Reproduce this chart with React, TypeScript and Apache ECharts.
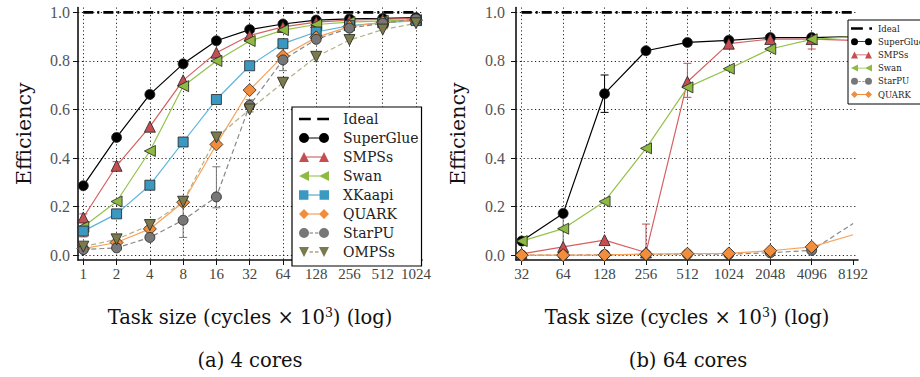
import React, { useEffect, useRef } from "react";
import * as echarts from "echarts";

// ---------- data: panel (a) 4 cores ----------
const sizesA = [1, 2, 4, 8, 16, 32, 64, 128, 256, 512, 1024];
const idealA = [1, 1, 1, 1, 1, 1, 1, 1, 1, 1, 1];
const superGlueA = [0.286, 0.485, 0.662, 0.788, 0.883, 0.929, 0.952, 0.968, 0.973, 0.975, 0.978];
const smpssA = [0.155, 0.368, 0.529, 0.72, 0.834, 0.905, 0.94, 0.96, 0.968, 0.972, 0.974];
const swanA = [0.117, 0.221, 0.429, 0.696, 0.8, 0.882, 0.927, 0.95, 0.96, 0.965, 0.968];
const xkaapiA = [0.099, 0.17, 0.288, 0.466, 0.641, 0.78, 0.871, 0.919, 0.945, 0.957, 0.966];
const quarkA = [0.027, 0.052, 0.108, 0.218, 0.456, 0.68, 0.82, 0.897, 0.941, 0.959, 0.968];
const starpuA = [0.023, 0.03, 0.073, 0.144, 0.24, 0.617, 0.804, 0.889, 0.935, 0.955, 0.973];
const ompssA = [0.035, 0.065, 0.124, 0.22, 0.485, 0.6, 0.71, 0.817, 0.886, 0.929, 0.955];
// error bars [size, low, high]
const errStarpuA = [[8, 0.073, 0.227], [16, 0.195, 0.364], [32, 0.59, 0.64], [64, 0.76, 0.83]];
const errSmpssA = [[1, 0.075, 0.17], [2, 0.35, 0.385]];

// ---------- data: panel (b) 64 cores ----------
const sizesB = [32, 64, 128, 256, 512, 1024, 2048, 4096, 8192];
const tickSizesB = [32, 64, 128, 256, 512, 1024, 2048, 4096, 8192];
const gridSizesB = [32, 64, 128, 256, 512, 1024, 2048, 4096];
const idealB = [1, 1, 1, 1, 1, 1, 1, 1, 1];
const superGlueB = [0.058, 0.172, 0.665, 0.842, 0.876, 0.885, 0.896, 0.896, 0.9];
const smpssB = [0.005, 0.034, 0.062, 0.011, 0.714, 0.871, 0.89, 0.89, 0.885];
const swanB = [0.058, 0.109, 0.221, 0.44, 0.691, 0.768, 0.849, 0.889, 0.9];
const starpuB = [0.0, 0.0, 0.002, 0.003, 0.004, 0.004, 0.01, 0.02, 0.13];
const quarkB = [0.0, 0.0, 0.001, 0.004, 0.006, 0.007, 0.018, 0.034, 0.084];
const errSuperGlueB = [[128, 0.588, 0.742]];
const errSmpssB = [[256, 0.0, 0.128], [512, 0.65, 0.79], [4096, 0.849, 0.886]];
const errStarpuB = [[64, 0.0, 0.17]];

const yTicks = [0, 0.2, 0.4, 0.6, 0.8, 1.0];

const FONT = "DejaVu Serif";
const TICKFONT = "Liberation Serif";

// legend icons (markers at both ends, line between)
const circ = (cx: number) => `M${cx - 5},5 A5,5 0 1,1 ${cx + 5},5 A5,5 0 1,1 ${cx - 5},5 Z`;
const triUp = (cx: number) => `M${cx - 5},10 L${cx},0 L${cx + 5},10 Z`;
const triLeft = (cx: number) => `M${cx - 5},5 L${cx + 5},0 L${cx + 5},10 Z`;
const triDown = (cx: number) => `M${cx - 5},0 L${cx + 5},0 L${cx},10 Z`;
const sq = (cx: number) => `M${cx - 4.6},0.4 H${cx + 4.6} V9.6 H${cx - 4.6} Z`;
const dia = (cx: number) => `M${cx - 5},5 L${cx},0 L${cx + 5},5 L${cx},10 Z`;
const bar = "M5,4.4 H25 V5.6 H5 Z";
const dbar = "M10.5,4.4 H14 V5.6 H10.5 Z M16,4.4 H19.5 V5.6 H16 Z";
const icon = (m: (c: number) => string, b: string) => "path://" + m(5) + " " + b + " " + m(25);
const ICONS: Record<string, string> = {
  SuperGlue: icon(circ, bar),
  SMPSs: icon(triUp, bar),
  Swan: icon(triLeft, bar),
  XKaapi: icon(sq, bar),
  QUARK: icon(dia, bar),
  StarPU: icon(circ, dbar),
  OMPSs: icon(triDown, dbar),
};
const idealIconA = "path://M0,3.8 H11 V6.2 H0 Z M17,3.8 H28 V6.2 H17 Z";
const idealIconB = "path://M0,3.8 H11 V6.2 H0 Z M17,3.8 H19.5 V6.2 H17 Z";

type Style = { marker: string; line: string; symbol: string; rotate: number; size: number; dashed: boolean };
const STYLES: Record<string, Style> = {
  SuperGlue: { marker: "#000000", line: "#000000", symbol: "circle", rotate: 0, size: 10, dashed: false },
  SMPSs: { marker: "#C44E52", line: "#D65F5F", symbol: "triangle", rotate: 0, size: 11, dashed: false },
  Swan: { marker: "#8EBA42", line: "#94C24A", symbol: "triangle", rotate: 90, size: 11, dashed: false },
  XKaapi: { marker: "#3B98C0", line: "#5BB5DA", symbol: "rect", rotate: 0, size: 10, dashed: false },
  QUARK: { marker: "#F28E3B", line: "#F9A35B", symbol: "diamond", rotate: 0, size: 13, dashed: false },
  StarPU: { marker: "#777777", line: "#888888", symbol: "circle", rotate: 0, size: 10, dashed: true },
  OMPSs: { marker: "#7B7A4C", line: "#B5B085", symbol: "triangle", rotate: 180, size: 11, dashed: true },
};

const lg = (v: number) => Math.log2(v);

function lineSeries(name: string, sizes: number[], vals: number[], axis: number, hideLast: boolean) {
  const s = STYLES[name];
  return {
    type: "line",
    name,
    xAxisIndex: axis,
    yAxisIndex: axis,
    data: sizes.map((x, i) =>
      hideLast && i === sizes.length - 1 ? { value: [lg(x), vals[i]], symbol: "none" } : [lg(x), vals[i]]
    ),
    symbol: s.symbol,
    symbolRotate: s.rotate,
    symbolSize: s.size,
    showSymbol: true,
    itemStyle: { color: s.marker, borderColor: "#222", borderWidth: 0.8 },
    lineStyle: { color: s.line, width: 1.2, type: s.dashed ? [5, 3] : "solid" },
    emphasis: { disabled: true },
    z: 3,
  };
}

function idealSeries(sizes: number[], vals: number[], axis: number) {
  return {
    type: "line",
    name: "Ideal",
    xAxisIndex: axis,
    yAxisIndex: axis,
    data: sizes.map((x, i) => [lg(x), vals[i]]),
    showSymbol: false,
    symbol: "none",
    itemStyle: { color: "#000" },
    lineStyle: { color: "#000", width: 2.6, type: [10, 4, 2, 4] },
    emphasis: { disabled: true },
    z: 2,
  };
}

function errSeries(id: string, rows: number[][], color: string, axis: number) {
  return {
    type: "custom",
    name: id,
    xAxisIndex: axis,
    yAxisIndex: axis,
    data: rows.map(([s, lo, hi]) => [lg(s), lo, hi]),
    encode: { x: 0, y: [1, 2] },
    itemStyle: { color },
    silent: true,
    z: 2,
    renderItem: (params: any, api: any) => {
      const x = api.value(0);
      const p1 = api.coord([x, api.value(1)]);
      const p2 = api.coord([x, api.value(2)]);
      const c = 4;
      const st = { stroke: color, lineWidth: 1 };
      return {
        type: "group",
        children: [
          { type: "line", shape: { x1: p1[0], y1: p1[1], x2: p2[0], y2: p2[1] }, style: st },
          { type: "line", shape: { x1: p1[0] - c, y1: p1[1], x2: p1[0] + c, y2: p1[1] }, style: st },
          { type: "line", shape: { x1: p2[0] - c, y1: p2[1], x2: p2[0] + c, y2: p2[1] }, style: st },
        ],
      };
    },
  };
}

const dotted = { color: "#000", width: 1, type: [1.2, 2.6], opacity: 0.85 };

function xAxis(grid: number, min: number, max: number, ticks: number[], splitShow: boolean) {
  return {
    type: "value",
    gridIndex: grid,
    min,
    max,
    position: "bottom",
    axisLine: { show: true, onZero: false, lineStyle: { color: "#111", width: 1.6 } },
    axisTick: { show: true, length: 5, customValues: ticks.map(lg), lineStyle: { color: "#111", width: 1 } },
    axisLabel: {
      customValues: ticks.map(lg),
      formatter: (v: number) => String(Math.round(Math.pow(2, v))),
      fontFamily: TICKFONT,
      fontSize: 15,
      color: "#444",
      margin: 6,
    },
    splitLine: { show: splitShow, lineStyle: dotted },
    name: "Task size (cycles × 10{sup|3}) (log)",
    nameLocation: "middle",
    nameGap: 46,
    nameTextStyle: {
      fontFamily: FONT,
      fontSize: 19.5,
      color: "#111",
      rich: { sup: { fontFamily: FONT, fontSize: 12.5, color: "#111", verticalAlign: "bottom", padding: [0, 0, 10, 0] } },
    },
  };
}

function yAxis(grid: number, labelMargin: number, nameGap: number) {
  return {
    type: "value",
    gridIndex: grid,
    min: -0.02,
    max: 1.02,
    axisLine: { show: true, onZero: false, lineStyle: { color: "#111", width: 1.6 } },
    axisTick: { show: true, length: 5, customValues: yTicks, lineStyle: { color: "#111", width: 1 } },
    axisLabel: {
      customValues: yTicks,
      formatter: (v: number) => v.toFixed(1),
      fontFamily: TICKFONT,
      fontSize: 16,
      color: "#555",
      margin: labelMargin,
    },
    splitLine: { show: true, lineStyle: dotted },
    name: "Efficiency",
    nameLocation: "middle",
    nameGap,
    nameTextStyle: { fontFamily: FONT, fontSize: 20.5, color: "#111" },
  };
}

const legendNamesA = ["Ideal", "SuperGlue", "SMPSs", "Swan", "XKaapi", "QUARK", "StarPU", "OMPSs"];
const legendNamesB = ["Ideal", "SuperGlue", "SMPSs", "Swan", "StarPU", "QUARK"];

const captionStyle = { font: `19.5px '${FONT}'`, fill: "#111", align: "center", verticalAlign: "middle" };

export default function App() {
  const ref = useRef<HTMLDivElement>(null);
  useEffect(() => {
    if (!ref.current) return;
    const chart = echarts.init(ref.current, undefined, { renderer: "svg" });
    const option: any = {
      animation: false,
      textStyle: { fontFamily: FONT },
      grid: [
        { left: 78, top: 7.5, width: 344, height: 252.5, containLabel: false },
        { left: 516, top: 7.5, width: 342, height: 252.5, containLabel: false },
      ],
      xAxis: [
        xAxis(0, -0.16, 10.18, sizesA, true),
        xAxis(1, 4.862, 13.118, tickSizesB, false),
        {
          type: "value",
          gridIndex: 1,
          min: 4.862,
          max: 13.118,
          position: "bottom",
          axisLine: { show: false },
          axisTick: { show: false, customValues: gridSizesB.map(lg) },
          axisLabel: { show: false, customValues: gridSizesB.map(lg) },
          splitLine: { show: true, lineStyle: dotted },
        },
      ],
      yAxis: [yAxis(0, 8, 44), yAxis(1, 11, 48)],
      legend: [
        {
          orient: "vertical",
          align: "left",
          left: 292,
          top: 107,
          padding: [5, 3, 7, 7],
          itemWidth: 30,
          itemHeight: 10,
          itemGap: 5,
          backgroundColor: "#fff",
          borderColor: "#000",
          borderWidth: 1.2,
          borderRadius: 0,
          selectedMode: false,
          itemStyle: { borderWidth: 0 },
          textStyle: { fontFamily: FONT, fontSize: 14, color: "#222", lineHeight: 10, padding: [0, 0, 0, 9] },
          data: legendNamesA.map((n) => ({ name: n, icon: n === "Ideal" ? idealIconA : ICONS[n] })),
        },
        {
          orient: "vertical",
          align: "left",
          left: 848,
          top: 20,
          padding: [4, 6, 5, 3],
          itemWidth: 21,
          itemHeight: 7,
          itemGap: 4.2,
          backgroundColor: "#fff",
          borderColor: "#000",
          borderWidth: 1,
          borderRadius: 0,
          selectedMode: false,
          itemStyle: { borderWidth: 0 },
          textStyle: { fontFamily: FONT, fontSize: 8.5, color: "#222", lineHeight: 7, padding: [0, 0, 0, 1] },
          data: legendNamesB.map((n) => ({ name: n, icon: n === "Ideal" ? idealIconB : ICONS[n] })),
        },
      ],
      graphic: [
        { type: "text", x: 250, y: 360, style: { text: "(a) 4 cores", ...captionStyle } },
        { type: "text", x: 688, y: 360, style: { text: "(b) 64 cores", ...captionStyle } },
      ],
      series: [
        idealSeries(sizesA, idealA, 0),
        errSeries("errSMPSsA", errSmpssA, "#C44E52", 0),
        errSeries("errStarPUA", errStarpuA, "#777777", 0),
        lineSeries("SuperGlue", sizesA, superGlueA, 0, false),
        lineSeries("SMPSs", sizesA, smpssA, 0, false),
        lineSeries("Swan", sizesA, swanA, 0, false),
        lineSeries("XKaapi", sizesA, xkaapiA, 0, false),
        lineSeries("QUARK", sizesA, quarkA, 0, false),
        lineSeries("StarPU", sizesA, starpuA, 0, false),
        lineSeries("OMPSs", sizesA, ompssA, 0, false),

        idealSeries(sizesB, idealB, 1),
        errSeries("errSuperGlueB", errSuperGlueB, "#000000", 1),
        errSeries("errSMPSsB", errSmpssB, "#C44E52", 1),
        errSeries("errStarPUB", errStarpuB, "#777777", 1),
        lineSeries("SuperGlue", sizesB, superGlueB, 1, true),
        lineSeries("SMPSs", sizesB, smpssB, 1, true),
        lineSeries("Swan", sizesB, swanB, 1, true),
        lineSeries("StarPU", sizesB, starpuB, 1, true),
        lineSeries("QUARK", sizesB, quarkB, 1, true),
      ],
    };
    chart.setOption(option);
    return () => chart.dispose();
  }, []);
  return (
    <div
      ref={ref}
      style={{ position: "fixed", left: 0, top: 0, width: 920, height: 377, background: "#fff" }}
    />
  );
}
